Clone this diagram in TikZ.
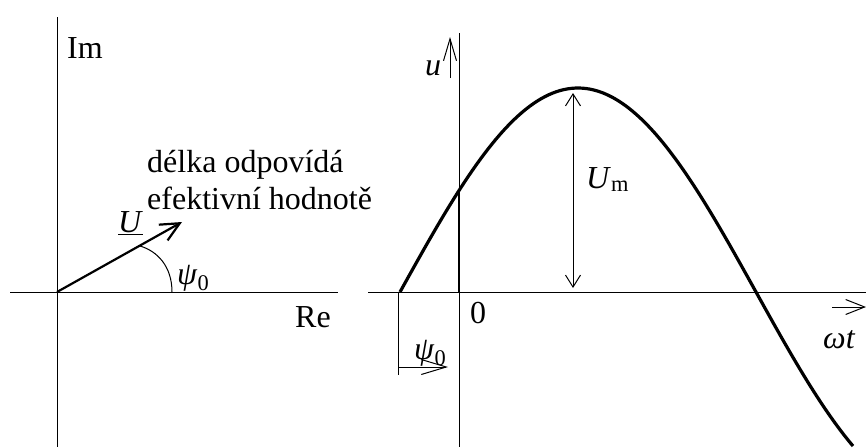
\documentclass[tikz,border=0pt]{standalone}
\usepackage{fontspec}
\setmainfont{Liberation Serif}
\usetikzlibrary{arrows.meta, positioning}

\begin{document}
\begin{tikzpicture}[
    x=1pt, y=-1pt,
    >={Straight Barb[length=12pt,width=15pt]},
    axis/.style={
        draw=black,
        line width=1pt
    },
    wave/.style={
        draw=black,
        line width=3.2pt
    },
    phasor/.style={
        draw=black,
        line width=2.2pt,
        -{Straight Barb[length=19pt,width=18pt]}
    },
    lbl/.style={
        inner sep=0pt,
        anchor=base west,
        font=\fontsize{32}{37}\selectfont
    }
]
\useasboundingbox (0,0) rectangle (866,447);

% Complex plane
\coordinate (O) at (57,292);
\coordinate (imT) at (57,17);
\coordinate (imB) at (57,447);
\coordinate (reL) at (10,292);
\coordinate (reR) at (338,292);
\draw[axis] (imT) -- (imB);
\draw[axis] (reL) -- (reR);
\node[lbl] (im) at (67,58) {Im};
\node[lbl] (re) at (295,327) {Re};

% Phasor and its angle
\coordinate (Utip) at (182,222);
\draw[phasor] (O) -- (Utip);
\coordinate (arcA) at (140,246);
\coordinate (arcB) at (172,292);
\draw[axis] (arcA) .. controls (157,251) and (172,266) .. (arcB);
\node[lbl] (U) at (118,232) {\underline{\textit{U}}};
\node[lbl] (psiL) at (177,284) {\textit{ψ}\textsubscript{0}};
\node[lbl] (len1) at (147,172) {délka odpovídá};
\node[lbl] (len2) at (147,209) {efektivní hodnotě};

% Time plot axes
\coordinate (uT) at (459,33);
\coordinate (uB) at (459,447);
\coordinate (tL) at (368,292);
\coordinate (tR) at (866,292);
\draw[axis] (uT) -- (uB);
\draw[axis] (tL) -- (tR);
\coordinate (uA) at (450,78);
\coordinate (uZ) at (450,37);
\draw[axis, -{Straight Barb[length=22pt,width=13pt]}] (uA) -- (uZ);
\node[lbl] (u) at (425,75) {\textit{u}};
\coordinate (wA) at (832,307);
\coordinate (wZ) at (866,307);
\draw[axis, -{Straight Barb[length=19pt,width=15pt]}] (wA) -- (wZ);
\node[lbl] (wt) at (823,348) {\textit{ωt}};
\node[lbl] (zero) at (470,323) {0};

% Sine wave
\draw[wave] plot[domain=400:853, samples=120] (\x, {292-204*sin((\x-400)/356*180)});
\coordinate (w0) at (459,193);
\coordinate (z0) at (459,292);
\draw[wave, line width=2.6pt] (w0) -- (z0);

% Amplitude
\coordinate (mT) at (573,93);
\coordinate (mB) at (573,288);
\draw[axis, <->] (mT) -- (mB);
\node[lbl] (Um) at (586,188) {\textit{U}\textsubscript{m}};

% Phase shift
\coordinate (sT) at (398,292);
\coordinate (sB) at (398,375);
\draw[axis] (sT) -- (sB);
\coordinate (pA) at (398,367);
\coordinate (pZ) at (448,367);
\draw[axis, -{Straight Barb[length=25pt,width=15pt]}] (pA) -- (pZ);
\node[lbl] (psiR) at (414,359) {\textit{ψ}\textsubscript{0}};

\end{tikzpicture}
\end{document}
